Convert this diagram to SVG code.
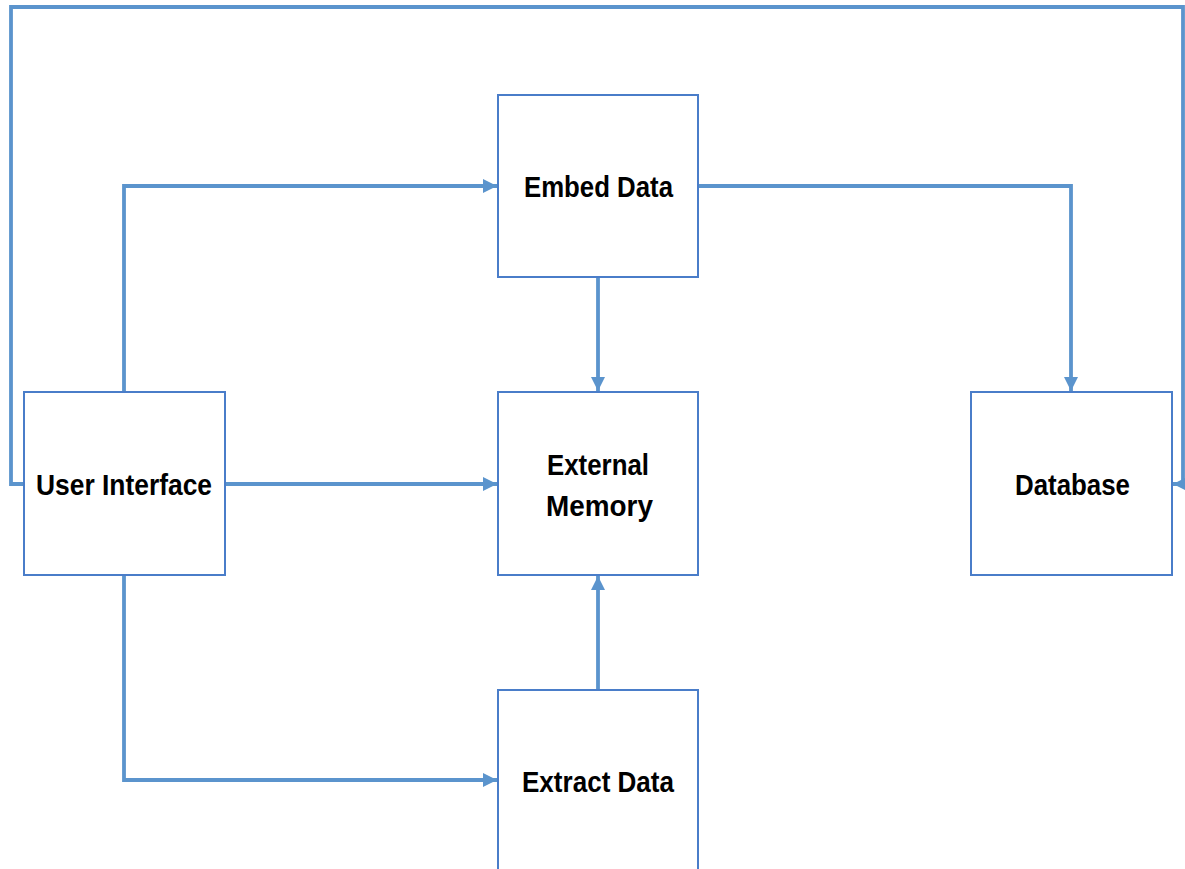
<svg xmlns="http://www.w3.org/2000/svg" width="1185" height="869" viewBox="0 0 1185 869">
  <style>
    .box { fill: #ffffff; stroke: #4A7DC9; stroke-width: 2; }
    .lbl { font-family: "Liberation Sans", Arial, sans-serif; font-weight: bold; font-size: 30px; fill: #000000; }
    .wire { fill: none; stroke: #5B94CD; stroke-width: 3.8; stroke-linejoin: miter; }
  </style>
  <defs>
    <marker id="arrow" markerUnits="userSpaceOnUse" viewBox="0 0 14 14" markerWidth="14" markerHeight="14" refX="14" refY="7" orient="auto">
      <path d="M0,0 L14,7 L0,14 Z" fill="#5B94CD"/>
    </marker>
    <marker id="arrow-sm" markerUnits="userSpaceOnUse" viewBox="0 0 12 12" markerWidth="12" markerHeight="12" refX="12" refY="6" orient="auto">
      <path d="M0,0 L12,6 L0,12 Z" fill="#5B94CD"/>
    </marker>
  </defs>

  <rect width="1185" height="869" fill="#ffffff"/>

  <g id="connectors">
    <!-- feedback loop around the whole chart into Database -->
    <path class="wire" d="M24,484 H11 V7 H1183 V484 H1173" marker-end="url(#arrow-sm)"/>
    <!-- User Interface -> Embed Data -->
    <path class="wire" d="M124,392 V186 H497" marker-end="url(#arrow)"/>
    <!-- Embed Data -> Database -->
    <path class="wire" d="M698,186 H1071 V391" marker-end="url(#arrow)"/>
    <!-- Embed Data -> External Memory -->
    <path class="wire" d="M598,277 V391" marker-end="url(#arrow)"/>
    <!-- User Interface -> External Memory -->
    <path class="wire" d="M225,484 H497" marker-end="url(#arrow)"/>
    <!-- User Interface -> Extract Data -->
    <path class="wire" d="M124,575 V780 H497" marker-end="url(#arrow)"/>
    <!-- Extract Data -> External Memory -->
    <path class="wire" d="M598,690 V576" marker-end="url(#arrow)"/>
  </g>

  <g id="embed-data">
    <rect class="box" x="498" y="95" width="200" height="182"/>
    <text class="lbl" x="524" y="197" textLength="149" lengthAdjust="spacingAndGlyphs">Embed Data</text>
  </g>

  <g id="external-memory">
    <rect class="box" x="498" y="392" width="200" height="183"/>
    <text class="lbl" x="547" y="475" textLength="102" lengthAdjust="spacingAndGlyphs">External</text>
    <text class="lbl" x="546" y="516" textLength="107" lengthAdjust="spacingAndGlyphs">Memory</text>
  </g>

  <g id="user-interface">
    <rect class="box" x="24" y="392" width="201" height="183"/>
    <text class="lbl" x="36" y="495" textLength="176" lengthAdjust="spacingAndGlyphs">User Interface</text>
  </g>

  <g id="database">
    <rect class="box" x="971" y="392" width="201" height="183"/>
    <text class="lbl" x="1015" y="495" textLength="115" lengthAdjust="spacingAndGlyphs">Database</text>
  </g>

  <g id="extract-data">
    <rect class="box" x="498" y="690" width="200" height="190"/>
    <text class="lbl" x="522" y="792" textLength="152" lengthAdjust="spacingAndGlyphs">Extract Data</text>
  </g>
</svg>
